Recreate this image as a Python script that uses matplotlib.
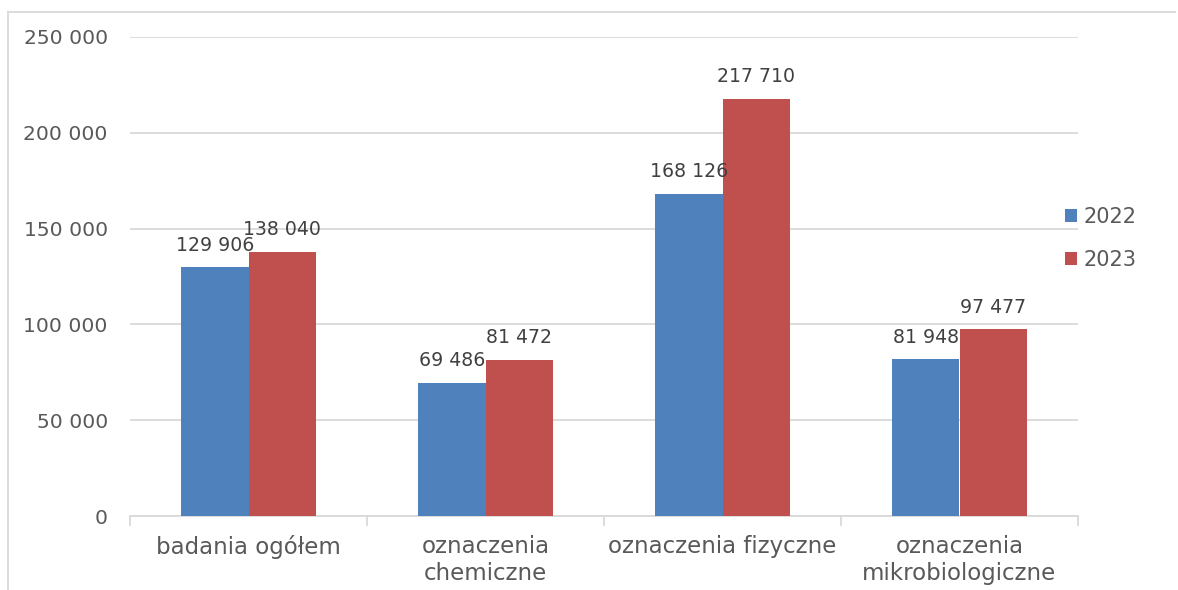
import matplotlib
matplotlib.use("Agg")
import matplotlib.pyplot as plt
from matplotlib.lines import Line2D
import numpy as np

categories = ["badania ogółem", "oznaczenia\nchemiczne", "oznaczenia fizyczne", "oznaczenia\nmikrobiologiczne"]
series_names = ["2022", "2023"]
values_2022 = [129906, 69486, 168126, 81948]
values_2023 = [138040, 81472, 217710, 97477]
yticks = [0, 50000, 100000, 150000, 200000, 250000]

colors = ["#4F81BD", "#C0504D"]
text_color = "#595959"
grid_color = "#D9D9D9"

plt.rcParams['font.family'] = ['DejaVu Sans']

fig = plt.figure(figsize=(11.78, 5.90), dpi=100)
ax = fig.add_axes([130/1178, 1-516/590, (1078-130)/1178, (516-37)/590])

x = np.arange(len(categories))
w = 0.283
def fmt(v):
    return f"{v:,}".replace(",", " ")

for i, (vals, name) in enumerate(zip([values_2022, values_2023], series_names)):
    pos = x + (i - 0.5) * w
    bars = ax.bar(pos, vals, width=w, color=colors[i], label=name, zorder=3)
    for b, v in zip(bars, vals):
        ax.text(b.get_x() + b.get_width()/2, v + 6500, fmt(v), ha="center", va="bottom",
                fontsize=13.6, color="#404040", zorder=4)

ax.set_xlim(-0.5, len(categories) - 0.5)
ax.set_ylim(0, 250000)
ax.set_yticks(yticks)
ax.set_yticklabels([fmt(t) for t in yticks], fontsize=14.6, color=text_color)
ax.yaxis.grid(True, color=grid_color, linewidth=1.3, zorder=0)
ax.tick_params(axis="y", length=0, pad=16)

ax.set_xticks(x)
ax.set_xticklabels(categories, fontsize=16.5, color=text_color, linespacing=1.2)
ax.tick_params(axis="x", length=0, pad=14)
ax.set_xticks(np.arange(len(categories) + 1) - 0.5, minor=True)
ax.tick_params(axis="x", which="minor", length=7, color=grid_color, width=1.3)

for s in ["top", "right", "left"]:
    ax.spines[s].set_visible(False)
ax.spines["bottom"].set_color(grid_color)
ax.spines["bottom"].set_linewidth(1.3)

leg = ax.legend(loc="upper left", bbox_to_anchor=(1046/1178, 1-188/590), bbox_transform=fig.transFigure,
                frameon=False, fontsize=15, handlelength=0.6, handleheight=0.6, handletextpad=0.3,
                labelspacing=1.1, labelcolor=text_color)

# outer chart frame (top and left edges visible)
fig.add_artist(Line2D([8/1178, 1175/1178], [1-12/590, 1-12/590], transform=fig.transFigure,
                      color=grid_color, linewidth=1.3))
fig.add_artist(Line2D([8/1178, 8/1178], [1-12/590, 0], transform=fig.transFigure,
                      color=grid_color, linewidth=1.3))

fig.savefig("out.png", dpi=100)
